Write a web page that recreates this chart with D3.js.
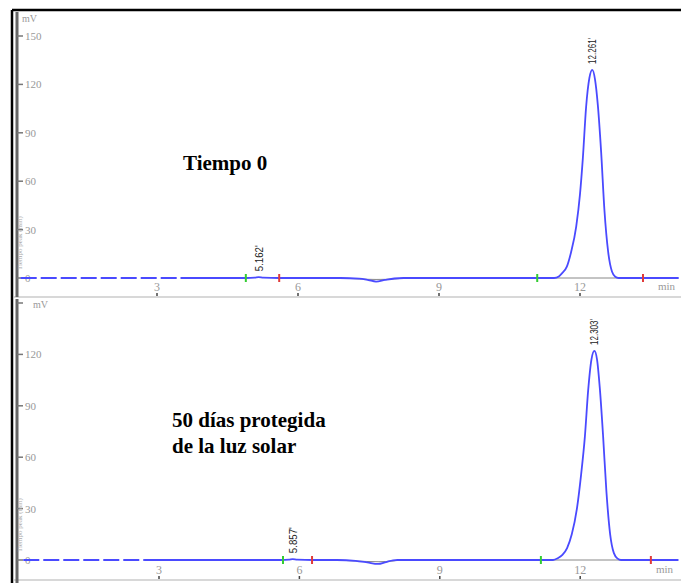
<!DOCTYPE html>
<html>
<head>
<meta charset="utf-8">
<script src="https://cdn.jsdelivr.net/npm/d3@7"></script>
<style>
  body { margin: 0; background: #fff; }
  svg { display: block; }
</style>
</head>
<body>
<div id="vis"></div>
<script>
// chromatograms: Tiempo 0 vs 50 dias protegida de la luz solar
const FRAME_WIDTH = 681;
const FRAME_HEIGHT = 583;

const yTicks = [0, 30, 60, 90, 120, 150];
const xTicks = [3, 6, 9, 12];

// top run (tiempo 0)
const topTime = [0.1, 3.5, 4.9, 5.08, 5.162, 5.26, 5.6, 6.9, 7.3, 7.5, 7.66, 7.85, 8.05, 8.25, 11.0,
  11.45, 11.55, 11.62, 11.72, 11.81, 11.92, 12.0, 12.06, 12.13, 12.2, 12.261,
  12.32, 12.38, 12.45, 12.52, 12.6, 12.68, 12.75, 12.82, 14.1];
const topMv = [0, 0, 0, 0.2, 0.5, 0.2, 0, 0, -0.4, -1.3, -2.2, -1.2, -0.3, 0, 0,
  0, 1, 3, 7, 16, 32, 52, 74, 106, 124, 129,
  123, 107, 78, 42, 16, 4, 0.8, 0, 0];
const topDash = 3.5;
const topPeaks = [{t: 5.162, label: "5.162'", mv: 0.5}, {t: 12.261, label: "12.261'", mv: 129}];
const topGreen = [4.89, 11.09];
const topRed = [5.6, 13.34];
const topChordT = [6.9, 7.3, 7.66, 8.05, 8.25];
const topChordMv = [0, -0.6, -0.9, -0.6, 0];

// bottom run (50 dias)
const botTime = [0.1, 2.7, 5.6, 5.78, 5.857, 5.95, 6.3, 6.8, 7.2, 7.45, 7.68, 7.85, 8.0, 8.1, 11.1,
  11.42, 11.52, 11.62, 11.72, 11.82, 11.93, 12.02, 12.1, 12.17, 12.24, 12.303,
  12.36, 12.42, 12.49, 12.56, 12.64, 12.72, 12.8, 12.87, 14.1];
const botMv = [0, 0, 0, 0.2, 0.5, 0.2, 0, 0, -0.5, -1.4, -2.3, -1.2, -0.2, 0, 0,
  0, 1, 3, 7, 15, 30, 50, 72, 99, 117, 122,
  117, 100, 72, 40, 15, 4, 0.8, 0, 0];
const botDash = 2.7;
const botPeaks = [{t: 5.857, label: "5.857'", mv: 0.5}, {t: 12.303, label: "12.303'", mv: 122}];
const botGreen = [5.65, 11.16];
const botRed = [6.27, 13.51];
const botChordT = [6.8, 7.2, 7.68, 8.0, 8.1];
const botChordMv = [0, -0.6, -1.0, -0.6, 0];

const svg = d3.select("#vis").append("svg")
  .attr("width", FRAME_WIDTH)
  .attr("height", FRAME_HEIGHT);

function drawPanel(p) {
  const X = d3.scaleLinear().domain([0, 14]).range([p.x0, p.x0 + p.pxMin * 14]);
  const Y = d3.scaleLinear().domain([0, 150]).range([p.y0, p.y150]);
  const g = svg.append("g");

  // x axis line with labels sitting above it
  g.append("line").attr("x1", 14).attr("x2", FRAME_WIDTH)
    .attr("y1", p.axisY).attr("y2", p.axisY)
    .attr("stroke", "#d8d8d8").attr("stroke-width", 2);
  xTicks.forEach(t => {
    g.append("text").attr("x", X(t)).attr("y", p.axisY - 6)
      .attr("text-anchor", "middle").attr("font-family", "Liberation Serif, serif")
      .attr("font-size", 12).attr("fill", "#999").text(t);
    g.append("line").attr("x1", X(t)).attr("x2", X(t))
      .attr("y1", p.axisY - 4).attr("y2", p.axisY - 1)
      .attr("stroke", "#444").attr("stroke-width", 1.5);
  });
  g.append("text").attr("x", p.minX).attr("y", p.axisY - 7)
    .attr("font-family", "Liberation Serif, serif").attr("font-size", 11)
    .attr("fill", "#999").text("min");

  // y axis
  g.append("line").attr("x1", 17).attr("x2", 17)
    .attr("y1", p.yTop).attr("y2", p.yBot)
    .attr("stroke", "#666").attr("stroke-width", 3);
  yTicks.forEach(v => {
    g.append("line").attr("x1", 17).attr("x2", 23)
      .attr("y1", Y(v)).attr("y2", Y(v)).attr("stroke", "#777").attr("stroke-width", 1.5);
    if (v === 150 && p.hide150) return;
    g.append("text").attr("x", 25).attr("y", Y(v) + 4)
      .attr("font-family", "Liberation Serif, serif").attr("font-size", 11)
      .attr("fill", "#999").text(v);
  });
  g.append("text").attr("x", p.mvX).attr("y", p.mvY)
    .attr("font-family", "Liberation Serif, serif").attr("font-size", 10)
    .attr("fill", "#999").text("mV");
  g.append("text")
    .attr("transform", "translate(22," + (Y(0) - 8) + ") rotate(-90)")
    .attr("font-family", "Liberation Serif, serif").attr("font-size", 7)
    .attr("fill", "#aaa").text("Tiempo peak (min)");

  // integration baselines (gray)
  const pts = p.time.map((t, i) => [t, p.mv[i]]);
  g.append("line").attr("x1", X(p.peakStart)).attr("x2", X(p.peakEnd))
    .attr("y1", Y(0)).attr("y2", Y(0)).attr("stroke", "#888").attr("stroke-width", 1);
  g.append("path")
    .attr("d", d3.line().x(d => X(d[0])).y(d => Y(d[1])).curve(d3.curveMonotoneX)(p.chordT.map((t, i) => [t, p.chordMv[i]])))
    .attr("fill", "none").attr("stroke", "#888").attr("stroke-width", 1);

  // trace
  const line = d3.line().x(d => X(d[0])).y(d => Y(d[1])).curve(d3.curveMonotoneX);
  g.append("path").attr("d", line(pts.filter(d => d[0] <= p.dash)))
    .attr("fill", "none").attr("stroke", "#4a4aff").attr("stroke-width", 1.8)
    .attr("stroke-dasharray", "16,4");
  g.append("path").attr("d", line(pts.filter(d => d[0] >= p.dash)))
    .attr("fill", "none").attr("stroke", "#4a4aff").attr("stroke-width", 1.8);

  // start/end markers
  p.green.forEach(t => g.append("line").attr("x1", X(t)).attr("x2", X(t))
    .attr("y1", Y(0) - 4).attr("y2", Y(0) + 4).attr("stroke", "#33cc33").attr("stroke-width", 2));
  p.red.forEach(t => g.append("line").attr("x1", X(t)).attr("x2", X(t))
    .attr("y1", Y(0) - 4).attr("y2", Y(0) + 4).attr("stroke", "#e03a3a").attr("stroke-width", 2));

  // retention time labels
  p.peaks.forEach(pk => {
    g.append("text")
      .attr("transform", "translate(" + (X(pk.t) + 4) + "," + (Y(pk.mv) - 6) + ") rotate(-90)")
      .attr("font-family", "Liberation Sans Narrow, Liberation Sans, sans-serif")
      .attr("font-size", 10).attr("fill", "#222")
      .attr("textLength", 26).attr("lengthAdjust", "spacingAndGlyphs")
      .text(pk.label);
  });

  // annotation
  p.note.forEach((s, i) => {
    g.append("text").attr("x", p.noteX).attr("y", p.noteY + i * 26)
      .attr("font-family", "Liberation Serif, serif").attr("font-weight", "bold")
      .attr("font-size", 21).attr("fill", "#000").text(s);
  });
}

drawPanel({
  x0: 16, pxMin: 47, y0: 278, y150: 36, axisY: 297, yTop: 12, yBot: 297,
  minX: 658, mvX: 22, mvY: 22, hide150: false,
  time: topTime, mv: topMv, dash: topDash, peaks: topPeaks,
  green: topGreen, red: topRed, chordT: topChordT, chordMv: topChordMv,
  peakStart: 11.45, peakEnd: 12.82,
  note: ["Tiempo 0"], noteX: 183, noteY: 170
});

drawPanel({
  x0: 18.6, pxMin: 46.8, y0: 560, y150: 303, axisY: 580, yTop: 299, yBot: 583,
  minX: 656, mvX: 33, mvY: 308, hide150: true,
  time: botTime, mv: botMv, dash: botDash, peaks: botPeaks,
  green: botGreen, red: botRed, chordT: botChordT, chordMv: botChordMv,
  peakStart: 11.42, peakEnd: 12.87,
  note: ["50 días protegida", "de la luz solar"], noteX: 172, noteY: 427
});

// outer frame
svg.append("line").attr("x1", 12).attr("x2", FRAME_WIDTH).attr("y1", 10).attr("y2", 10)
  .attr("stroke", "#000").attr("stroke-width", 2.5);
svg.append("line").attr("x1", 12).attr("x2", 12).attr("y1", 10).attr("y2", FRAME_HEIGHT)
  .attr("stroke", "#000").attr("stroke-width", 2.5);
</script>
</body>
</html>
